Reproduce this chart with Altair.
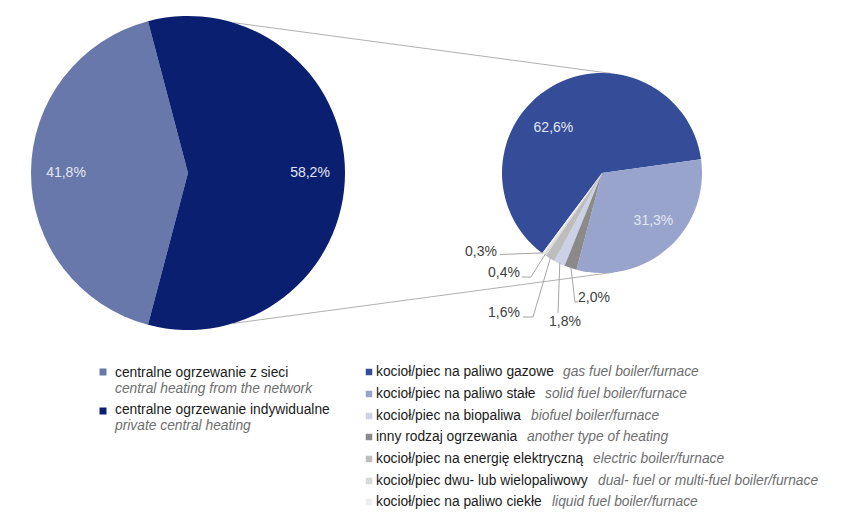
import math
import altair as alt
import pandas as pd

# ---------------- data ----------------
main_labels_pl = ["centralne ogrzewanie z sieci", "centralne ogrzewanie indywidualne"]
main_labels_en = ["central heating from the network", "private central heating"]
main_values = [41.8, 58.2]
main_colors = ["#6878ab", "#0b1f70"]

sub_labels_pl = [
    "kocioł/piec na paliwo gazowe",
    "kocioł/piec na paliwo stałe",
    "kocioł/piec na biopaliwa",
    "inny rodzaj ogrzewania",
    "kocioł/piec na energię elektryczną",
    "kocioł/piec dwu- lub wielopaliwowy",
    "kocioł/piec na paliwo ciekłe",
]
sub_labels_en = [
    "gas fuel boiler/furnace",
    "solid fuel boiler/furnace",
    "biofuel boiler/furnace",
    "another type of heating",
    "electric boiler/furnace",
    "dual- fuel or multi-fuel boiler/furnace",
    "liquid fuel boiler/furnace",
]
sub_values = [62.6, 31.3, 1.8, 2.0, 1.6, 0.4, 0.3]
sub_colors = ["#354c99", "#98a4cc", "#ccd1e8", "#8a8a8a", "#bdbdbd", "#d9d9d9", "#efefef"]
sub_pie_order = [0, 1, 3, 2, 4, 5, 6]  # clockwise position of each slice in the pie

# ---------------- layout ----------------
W, H = 852, 527
FONT = "Liberation Sans"
BIG_CX, BIG_CY, BIG_R = 188, 173, 157
SM_CX, SM_CY, SM_R = 602, 173, 100
BIG_START = 270 - main_values[0] * 3.6 / 2          # first slice centred on the left
SM_START = 82.1 - sub_values[0] * 3.6               # gas/solid boundary at ~82 deg


def fmt(v):
    return f"{v:.1f}".replace(".", ",") + "%"


def rad(d):
    return d * math.pi / 180


big_df = pd.DataFrame({
    "key": ["network", "private"],
    "value": main_values,
    "color": main_colors,
    "ord": [0, 1],
    "label": [fmt(v) for v in main_values],
})
sm_df = pd.DataFrame({
    "key": [f"s{i}" for i in range(len(sub_values))],
    "value": sub_values,
    "color": sub_colors,
    "ord": sub_pie_order,
    "label": [fmt(v) for v in sub_values],
})

big_theta = alt.Theta("value:Q", stack=True,
                      scale=alt.Scale(range=[rad(BIG_START), rad(BIG_START + 360)]))
sm_theta = alt.Theta("value:Q", stack=True,
                     scale=alt.Scale(range=[rad(SM_START), rad(SM_START + 360)]))

big_pie = alt.Chart(big_df).mark_arc(outerRadius=BIG_R).encode(
    theta=big_theta,
    color=alt.Color("color:N", scale=None),
    order=alt.Order("ord:Q"),
    x=alt.value(BIG_CX), y=alt.value(BIG_CY),
)
big_text = alt.Chart(big_df).mark_text(
    radius=122, font=FONT, fontSize=14, color="#e2e6f2", baseline="middle"
).encode(
    theta=big_theta, text="label:N", order=alt.Order("ord:Q"),
    x=alt.value(BIG_CX), y=alt.value(BIG_CY),
)

sm_pie = alt.Chart(sm_df).mark_arc(outerRadius=SM_R).encode(
    theta=sm_theta,
    color=alt.Color("color:N", scale=None),
    order=alt.Order("ord:Q"),
    x=alt.value(SM_CX), y=alt.value(SM_CY),
)
sm_text_gas = alt.Chart(sm_df).mark_text(
    radius=66, dx=-15, dy=12, font=FONT, fontSize=14, color="#e2e6f2", baseline="middle"
).encode(
    theta=sm_theta, order=alt.Order("ord:Q"),
    text=alt.condition(alt.datum.key == "s0", "label:N", alt.value("")),
    x=alt.value(SM_CX), y=alt.value(SM_CY),
)
sm_text_solid = alt.Chart(sm_df).mark_text(
    radius=70, dx=5, dy=-4, font=FONT, fontSize=14, color="#e2e6f2", baseline="middle"
).encode(
    theta=sm_theta, order=alt.Order("ord:Q"),
    text=alt.condition(alt.datum.key == "s1", "label:N", alt.value("")),
    x=alt.value(SM_CX), y=alt.value(SM_CY),
)

# outside labels with leader lines (anchors from slice mid-angles)
cum = 0.0
mids = {}
for idx in sorted(range(len(sub_values)), key=lambda i: sub_pie_order[i]):
    a0 = SM_START + cum * 3.6
    cum += sub_values[idx]
    a1 = SM_START + cum * 3.6
    mids[idx] = (a0 + a1) / 2

outside = {
    6: dict(tx=497, ty=251.5, align="right", pts=[(500, 254.5)]),
    5: dict(tx=520, ty=273, align="right", pts=[(522, 277), (531, 277)]),
    4: dict(tx=520, ty=313, align="right", pts=[(523, 317), (533, 317)]),
    2: dict(tx=565, ty=322, align="center", pts=[(558, 313)]),
    3: dict(tx=578, ty=298, align="left", pts=[(578, 302), (575, 302)]),
}
lab_rows, lead_rows = [], []
for idx, o in outside.items():
    m = rad(mids[idx])
    ax = SM_CX + (SM_R - 1) * math.sin(m)
    ay = SM_CY - (SM_R - 1) * math.cos(m)
    lab_rows.append(dict(x=o["tx"], y=o["ty"], align=o["align"], label=fmt(sub_values[idx])))
    pts = o["pts"] + [(ax, ay)]
    for j, (px, py) in enumerate(pts):
        lead_rows.append(dict(seg=idx, i=j, x=px, y=py))
lab_df = pd.DataFrame(lab_rows)
lead_df = pd.DataFrame(lead_rows)

XP = lambda f: alt.X(f, scale=None, axis=None)
YP = lambda f: alt.Y(f, scale=None, axis=None)

leaders = alt.Chart(lead_df).mark_line(color="#a6a6a6", strokeWidth=1).encode(
    x=XP("x:Q"), y=YP("y:Q"), detail="seg:N", order="i:Q"
)
out_texts = []
for al in ["left", "center", "right"]:
    out_texts.append(
        alt.Chart(lab_df).transform_filter(alt.datum.align == al).mark_text(
            align=al, baseline="middle", font=FONT, fontSize=14, color="#404040"
        ).encode(x=XP("x:Q"), y=YP("y:Q"), text="label:N")
    )

# connector lines between the pies
conn_rows = []
for k, (ba, sa) in enumerate([(16.7, 5.0), (163.3, 173.7)]):
    conn_rows.append(dict(seg=k, i=0, x=BIG_CX + BIG_R * math.sin(rad(ba)), y=BIG_CY - BIG_R * math.cos(rad(ba))))
    conn_rows.append(dict(seg=k, i=1, x=SM_CX + SM_R * math.sin(rad(sa)), y=SM_CY - SM_R * math.cos(rad(sa))))
connectors = alt.Chart(pd.DataFrame(conn_rows)).mark_line(color="#b0b0b0", strokeWidth=1).encode(
    x=XP("x:Q"), y=YP("y:Q"), detail="seg:N", order="i:Q"
)

# ---------------- legends ----------------
LEG_FS = 13.8
left_leg = pd.DataFrame({
    "sx": [103, 103], "sy": [372, 411],
    "tx": [115, 115], "ty": [373, 410], "ey": [388.5, 426],
    "pl": main_labels_pl, "en": main_labels_en, "color": main_colors,
})
right_leg = pd.DataFrame({
    "sx": [369] * 7,
    "sy": [372, 394, 416, 437, 459, 481, 502],
    "tx": [376] * 7,
    "ex": [563, 545, 531, 527, 593, 598, 552],
    "pl": sub_labels_pl, "en": sub_labels_en, "color": sub_colors,
})

leg_layers = [
    alt.Chart(left_leg).mark_square(size=49, opacity=1).encode(
        x=XP("sx:Q"), y=YP("sy:Q"), color=alt.Color("color:N", scale=None)),
    alt.Chart(left_leg).mark_text(align="left", baseline="middle", font=FONT, fontSize=LEG_FS, color="#1a1a1a").encode(
        x=XP("tx:Q"), y=YP("ty:Q"), text="pl:N"),
    alt.Chart(left_leg).mark_text(align="left", baseline="middle", font=FONT, fontSize=LEG_FS, fontStyle="italic", color="#6e6e6e").encode(
        x=XP("tx:Q"), y=YP("ey:Q"), text="en:N"),
    alt.Chart(right_leg).mark_square(size=42, opacity=1).encode(
        x=XP("sx:Q"), y=YP("sy:Q"), color=alt.Color("color:N", scale=None)),
    alt.Chart(right_leg).mark_text(align="left", baseline="middle", font=FONT, fontSize=LEG_FS, color="#1a1a1a").encode(
        x=XP("tx:Q"), y=YP("sy:Q"), text="pl:N"),
    alt.Chart(right_leg).mark_text(align="left", baseline="middle", font=FONT, fontSize=LEG_FS, fontStyle="italic", color="#6e6e6e").encode(
        x=XP("ex:Q"), y=YP("sy:Q"), text="en:N"),
]

chart = alt.layer(
    connectors, big_pie, big_text, sm_pie, sm_text_gas, sm_text_solid, leaders, *out_texts, *leg_layers
).resolve_scale(theta="independent").properties(
    width=W, height=H, padding=0, autosize=alt.AutoSizeParams(type="none"), background="white"
).configure_view(stroke=None)

chart.save("out.html", embed_options={"renderer": "svg", "actions": False})
